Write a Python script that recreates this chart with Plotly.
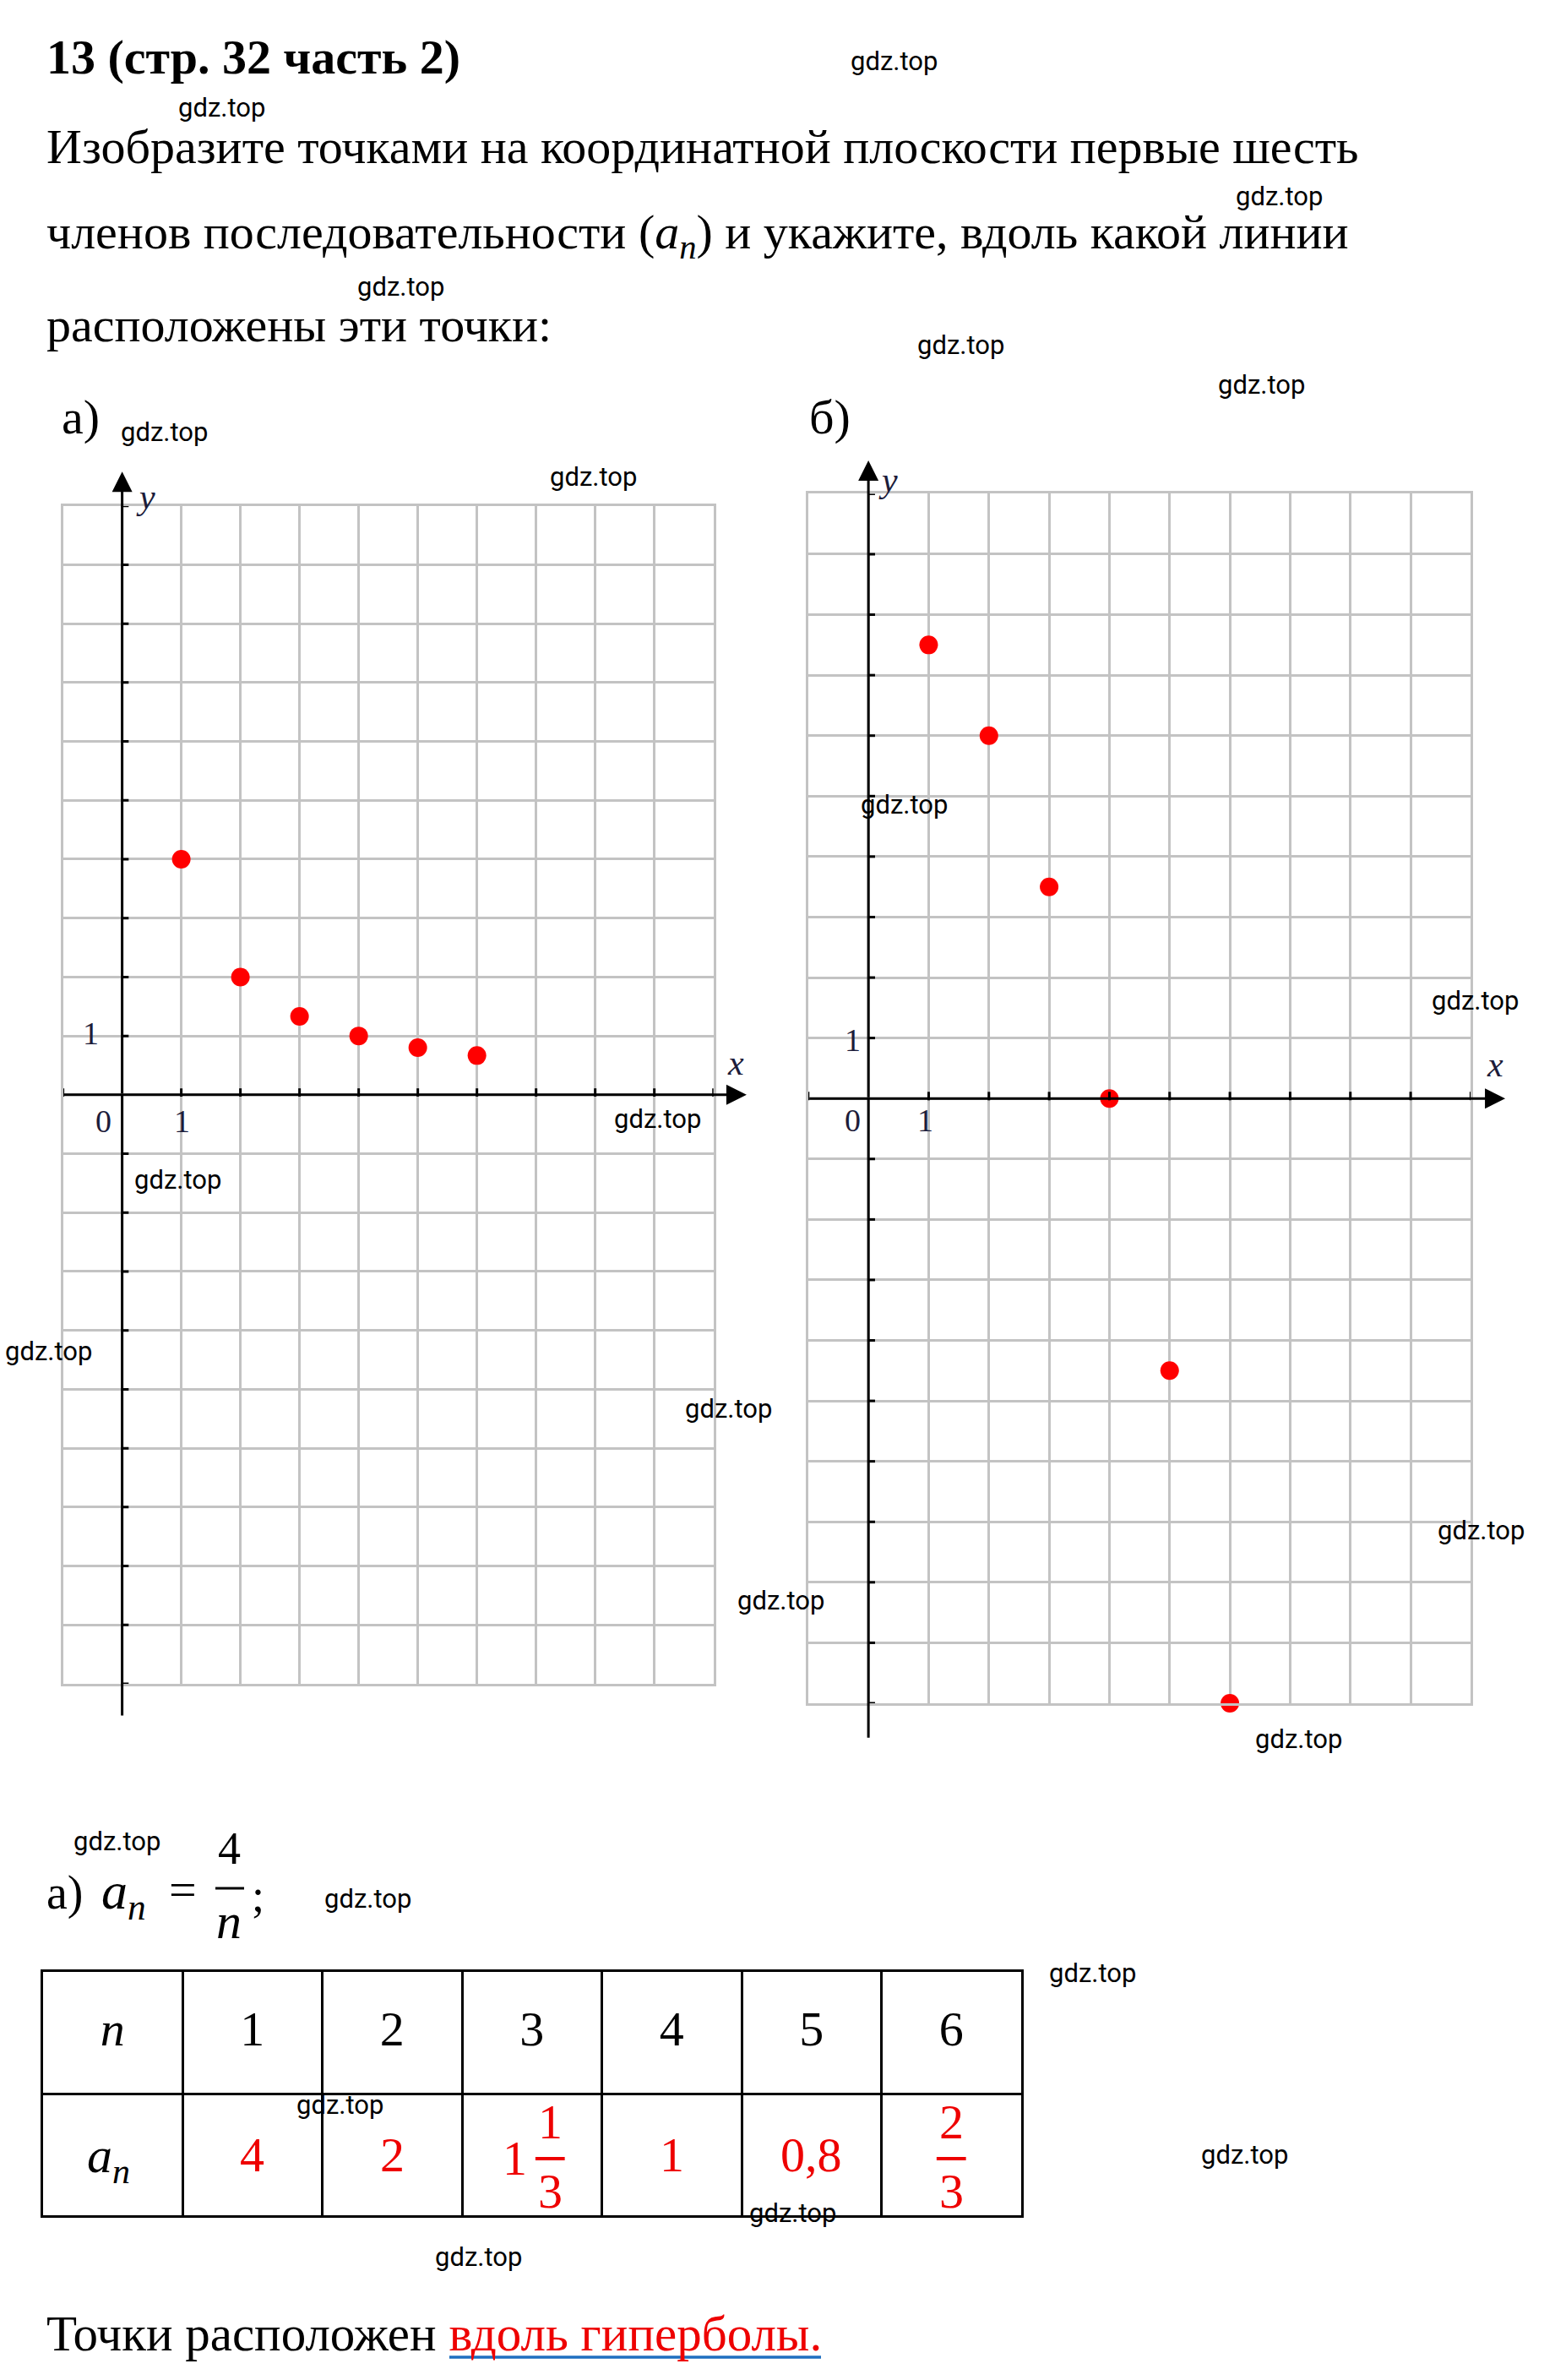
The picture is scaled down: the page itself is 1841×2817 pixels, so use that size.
import plotly.graph_objects as go

W, H = 1841, 2817

# ---------------- data ----------------
n_vals = [1, 2, 3, 4, 5, 6]
a_left = [4, 2, 1.333, 1, 0.8, 0.667]          # a) a_n = 4/n
a_right = [7.5, 6, 3.5, 0, -4.5, -10]          # b)
table_n = ["1", "2", "3", "4", "5", "6"]
table_a = ["4", "2", "1 1/3", "1", "0,8", "2/3"]
title_text = "13 (стр. 32 часть 2)"
para_lines = [
    "Изобразите точками на координатной плоскости первые шесть",
    "членов последовательности (<i>a</i><sub><i>n</i></sub>) и укажите, вдоль какой линии",
    "расположены эти точки:",
]
answer_black = "Точки расположен "
answer_red = "вдоль гиперболы."
watermark = "gdz.top"
wm_pos = [(1058, 72), (262, 128), (1514, 232), (474, 340), (1137, 408), (1493, 456),
          (194, 512), (702, 564), (1070, 952), (1746, 1184), (778, 1324), (210, 1396),
          (57, 1599), (862, 1667), (1753, 1812), (925, 1895), (1537, 2058), (138, 2179),
          (435, 2247), (1293, 2335), (402, 2491), (1473, 2550), (938, 2619), (566, 2671)]

SERIF = "Liberation Serif"
RED = "#ee0000"
GRID = "#c3c3c3"
LBL = "#1c1c3a"


def px(x):
    return x / W


def py(y):
    return 1 - y / H


fig = go.Figure()

# ---------------- scatter points ----------------
fig.add_trace(go.Scatter(x=n_vals, y=a_left, mode="markers", xaxis="x", yaxis="y",
                         marker=dict(color="#ff0000", size=22), cliponaxis=False,
                         showlegend=False, hoverinfo="skip"))
fig.add_trace(go.Scatter(x=n_vals, y=a_right, mode="markers", xaxis="x2", yaxis="y2",
                         marker=dict(color="#ff0000", size=22), cliponaxis=False,
                         showlegend=False, hoverinfo="skip"))

# tick marks on the black axes
XMIN, XMAX, YMIN, YMAX = -1, 10, -10, 10
for xa, ya in (("x", "y"), ("x2", "y2")):
    tx, ty = [], []
    for k in range(YMIN, YMAX + 1):
        if k != 0:
            tx += [0, 0.11, None]
            ty += [k, k, None]
    for k in range(XMIN, XMAX + 1):
        if k != 0:
            tx += [k, k, None]
            ty += [-0.03, 0.11, None]
    fig.add_trace(go.Scatter(x=tx, y=ty, mode="lines", xaxis=xa, yaxis=ya,
                             line=dict(color="black", width=3), showlegend=False,
                             hoverinfo="skip"))

# table header via text trace
fig.add_trace(go.Scatter(x=[i + 0.5 for i in range(7)], y=[0.5] * 7, mode="text",
                         xaxis="x3", yaxis="y3",
                         text=["<i>n</i>"] + table_n,
                         textfont=dict(family=SERIF, size=58, color="black"),
                         showlegend=False, hoverinfo="skip", cliponaxis=False))

grid_axis = dict(showgrid=True, gridcolor=GRID, gridwidth=2.5, zeroline=False,
                 showticklabels=False, ticks="", tickmode="linear", tick0=0, dtick=1,
                 showline=True, mirror=True, linecolor=GRID, linewidth=2.5, fixedrange=True)

layout = dict(
    width=W, height=H, margin=dict(l=0, r=0, t=0, b=0),
    paper_bgcolor="white", plot_bgcolor="white", showlegend=False,
    xaxis=dict(grid_axis, domain=[px(74.6), px(844.7)], range=[XMIN, XMAX], anchor="y"),
    yaxis=dict(grid_axis, domain=[py(1993), py(598.7)], range=[YMIN, YMAX], anchor="x"),
    xaxis2=dict(grid_axis, domain=[px(956.8), px(1741.4)], range=[XMIN, XMAX], anchor="y2"),
    yaxis2=dict(grid_axis, domain=[py(2016), py(584.4)], range=[YMIN, YMAX], anchor="x2"),
    xaxis3=dict(showgrid=True, gridcolor="black", gridwidth=2.5, zeroline=False,
                showticklabels=False, ticks="", tickmode="linear", tick0=0, dtick=1,
                showline=True, mirror=True, linecolor="black", linewidth=3,
                domain=[px(50.5), px(1209)], range=[0, 7], anchor="y3"),
    yaxis3=dict(showgrid=True, gridcolor="black", gridwidth=2.5, zeroline=False,
                showticklabels=False, ticks="", tickmode="linear", tick0=0, dtick=1,
                showline=True, mirror=True, linecolor="black", linewidth=3,
                domain=[py(2622), py(2334)], range=[2, 0], anchor="x3"),
)

ann = []


def paper_text(text, x, y, size, xanchor="left", color="black", family=SERIF, yanchor="middle"):
    ann.append(dict(text=text, x=px(x), y=py(y), xref="paper", yref="paper",
                    xanchor=xanchor, yanchor=yanchor, showarrow=False,
                    font=dict(family=family, size=size, color=color)))


def arrow(xr, yr, x, y, ax, ay, head=2):
    # tail (ax, ay) must lie inside the axis range so plotly keeps it visible
    ann.append(dict(text="", x=x, y=y, ax=ax, ay=ay, xref=xr, yref=yr, axref=xr, ayref=yr,
                    showarrow=True, arrowhead=head, arrowsize=1.6, arrowwidth=3,
                    arrowcolor="black", standoff=0, startstandoff=0))


def data_text(text, xr, yr, x, y, size, color=LBL, family=SERIF):
    ann.append(dict(text=text, x=x, y=y, xref=xr, yref=yr, showarrow=False,
                    xanchor="center", yanchor="middle",
                    font=dict(family=family, size=size, color=color)))


# header texts
paper_text("<b>" + title_text + "</b>", 53, 68, 58)
for i, line in enumerate(para_lines):
    paper_text(line, 53, 174 + i * 105, 58)
paper_text("а)", 95, 494, 58, xanchor="center")
paper_text("б)", 982, 494, 58, xanchor="center")

# axes with arrows (upper / right part with head, lower part plain)
arrow("x", "y", 0, 10.58, 0, 0)
arrow("x", "y", 0, 0, 0, -10.56, head=0)
arrow("x", "y", 10.56, 0, -1, 0)
arrow("x2", "y2", 0, 10.55, 0, 0)
arrow("x2", "y2", 0, 0, 0, -10.59, head=0)
arrow("x2", "y2", 10.57, 0, -1, 0)

# axis labels (outside range -> paper coords)
paper_text("<i>y</i>", 172, 588, 42, xanchor="center", color=LBL)
paper_text("<i>x</i>", 871, 1258, 42, xanchor="center", color=LBL)
paper_text("<i>y</i>", 1051, 568, 42, xanchor="center", color=LBL)
paper_text("<i>x</i>", 1770, 1260, 42, xanchor="center", color=LBL)
data_text("0", "x", "y", -0.31, -0.45, 38)
data_text("1", "x", "y", 1.01, -0.45, 38)
data_text("1", "x", "y", -0.53, 1.04, 38)
data_text("0", "x2", "y2", -0.26, -0.36, 38)
data_text("1", "x2", "y2", 0.94, -0.36, 38)
data_text("1", "x2", "y2", -0.26, 0.97, 38)

# formula a) a_n = 4/n;
paper_text("а)", 77, 2240, 56, xanchor="center")
paper_text("<i>a</i><sub><i>n</i></sub>", 146, 2242, 62, xanchor="center")
paper_text("=", 216, 2236, 58, xanchor="center")
paper_text("4", 271, 2188, 54, xanchor="center")
paper_text("<i>n</i>", 271, 2274, 60, xanchor="center")
paper_text(";", 305, 2244, 54, xanchor="center")

shapes = [
    dict(type="line", xref="paper", yref="paper", x0=px(255), x1=px(289), y0=py(2235), y1=py(2235),
         line=dict(color="black", width=3)),
]

# table second row
data_text("<i>a</i><sub><i>n</i></sub>", "x3", "y3", 0.47, 1.54, 60, color="black")
for i, v in enumerate(table_a):
    cx = i + 1.5
    if "/" in v:
        parts = v.split(" ")
        frac = parts[-1]
        num, den = frac.split("/")
        fx = cx
        if len(parts) == 2:
            data_text(parts[0], "x3", "y3", cx - 0.125, 1.53, 58, color=RED)
            fx = cx + 0.13
        data_text(num, "x3", "y3", fx, 1.23, 58, color=RED)
        data_text(den, "x3", "y3", fx, 1.80, 58, color=RED)
        shapes.append(dict(type="line", xref="x3", yref="y3", x0=fx - 0.105, x1=fx + 0.105,
                           y0=1.535, y1=1.535, line=dict(color=RED, width=4)))
    else:
        data_text(v, "x3", "y3", cx, 1.5, 58, color=RED)

# answer line
paper_text(answer_black + '<span style="color:' + RED + '">' + answer_red + "</span>",
           53, 2762, 59)
shapes.append(dict(type="line", xref="paper", yref="paper", x0=px(532), x1=px(972),
                   y0=py(2790), y1=py(2790), line=dict(color="#1f6fc0", width=3.5)))

# watermarks
for (wx, wy) in wm_pos:
    paper_text(watermark, wx, wy, 31, xanchor="center", family="Roboto")

layout["annotations"] = ann
layout["shapes"] = shapes
fig.update_layout(**layout)
fig.write_html("out.html")
